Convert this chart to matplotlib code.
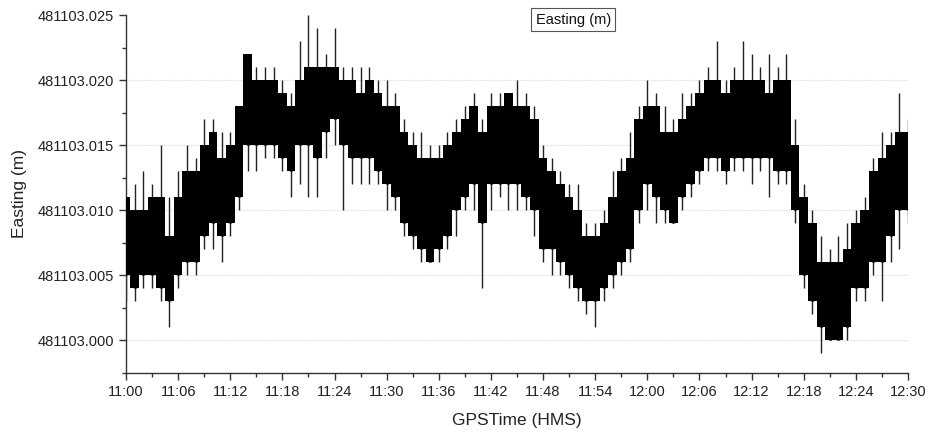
import numpy as np
import matplotlib
matplotlib.use("Agg")
import matplotlib.pyplot as plt
from matplotlib.ticker import MultipleLocator, FuncFormatter

plt.rcParams['font.family'] = ['Liberation Sans', 'DejaVu Sans']

# Easting readings, offsets in millimetres above the base value
EASTING_BASE = 481103.000
minutes = np.arange(0, 91)  # minutes after 11:00

core_low = [5, 4, 5, 5, 4, 3, 5, 6, 6, 8,
            9, 8, 9, 11, 15, 15, 15, 15, 14, 13,
            15, 15, 14, 16, 17, 15, 14, 14, 14, 13,
            12, 11, 9, 8, 7, 6, 7, 8, 10, 11,
            12, 9, 12, 12, 12, 12, 11, 10, 7, 7,
            6, 5, 4, 3, 3, 4, 5, 6, 7, 10,
            12, 11, 10, 9, 11, 12, 13, 14, 14, 13,
            14, 14, 14, 14, 14, 13, 13, 10, 5, 3,
            1, 0, 0, 1, 4, 4, 6, 6, 8, 10, 10]
core_high = [11, 10, 10, 11, 11, 8, 11, 13, 13, 15,
             16, 14, 15, 18, 22, 20, 20, 20, 19, 18,
             20, 21, 21, 21, 21, 20, 20, 19, 20, 19,
             18, 18, 16, 15, 14, 14, 14, 15, 16, 17,
             18, 16, 18, 18, 19, 18, 18, 17, 14, 13,
             12, 11, 10, 8, 8, 9, 11, 13, 14, 17,
             18, 18, 16, 16, 17, 18, 19, 20, 20, 19,
             20, 20, 20, 20, 19, 20, 20, 15, 11, 9,
             6, 6, 6, 7, 9, 10, 13, 14, 15, 16, 16]
peak_low = [3, 3, 4, 4, 3, 1, 4, 5, 5, 7,
            7, 6, 8, 10, 13, 13, 14, 14, 13, 11,
            12, 11, 11, 14, 15, 10, 12, 12, 12, 12,
            10, 10, 8, 7, 6, 6, 6, 7, 8, 10,
            10, 4, 10, 11, 10, 10, 10, 8, 6, 5,
            5, 4, 3, 2, 1, 3, 4, 5, 6, 9,
            10, 9, 9, 9, 10, 11, 12, 13, 13, 12,
            13, 13, 12, 13, 11, 12, 12, 9, 4, 2,
            -1, 0, 0, 0, 3, 3, 5, 3, 6, 7, 9]
peak_high = [11, 12, 13, 12, 15, 11, 13, 15, 14, 17,
             17, 16, 16, 18, 22, 21, 21, 21, 20, 19,
             23, 25, 24, 22, 24, 21, 21, 21, 21, 20,
             20, 19, 17, 16, 16, 15, 15, 16, 17, 18,
             19, 17, 19, 19, 19, 20, 19, 18, 15, 14,
             13, 12, 12, 9, 9, 10, 13, 14, 16, 18,
             20, 19, 18, 17, 19, 19, 20, 21, 23, 20,
             21, 23, 22, 21, 22, 21, 22, 17, 12, 10,
             8, 7, 8, 9, 10, 11, 14, 16, 16, 19, 17]

tick_labels = ['11:00', '11:06', '11:12', '11:18', '11:24', '11:30', '11:36',
               '11:42', '11:48', '11:54', '12:00', '12:06', '12:12', '12:18',
               '12:24', '12:30']


def to_m(mm):
    return EASTING_BASE + np.asarray(mm, dtype=float) / 1000.0


fig = plt.figure(figsize=(9.3, 4.34), dpi=100)
ax = fig.add_axes([0.1355, 0.1406, 0.8408, 0.8248])

# horizontal grid at the major ticks
for v in [0.000, 0.005, 0.010, 0.015, 0.020]:
    ax.axhline(EASTING_BASE + v, color='#dcdcdc', lw=0.8, ls=(0, (1, 1)), zorder=0)

# extreme readings within each minute
ax.vlines(minutes, to_m(peak_low), to_m(peak_high), color='#222222', lw=1.0, zorder=2)
# dense core band of the readings
ax.fill_between(minutes, to_m(core_low), to_m(core_high), step='mid',
                color='black', lw=0, zorder=3)
ax.vlines(minutes, to_m(core_low), to_m(core_high), color='black', lw=2.5, zorder=3)

ax.set_xlim(0, 90)
ax.set_ylim(481102.9975, 481103.025)
ax.set_xticks(np.arange(0, 91, 6))
ax.set_xticklabels(tick_labels)
ax.xaxis.set_minor_locator(MultipleLocator(3))
ax.yaxis.set_major_locator(MultipleLocator(0.005))
ax.yaxis.set_minor_locator(MultipleLocator(0.0025))
ax.yaxis.set_major_formatter(FuncFormatter(lambda v, p: f'{v:.3f}'))

for side in ['top', 'right']:
    ax.spines[side].set_visible(False)
for side in ['left', 'bottom']:
    ax.spines[side].set_color('#333333')
    ax.spines[side].set_linewidth(1.0)

ax.tick_params(axis='both', which='major', direction='out', length=5,
               width=1, color='#333333', labelsize=10.5, labelcolor='#222222')
ax.tick_params(axis='both', which='minor', direction='out', length=3,
               width=1, color='#333333')

ax.set_xlabel('GPSTime (HMS)', fontsize=12.5, color='#222222', labelpad=10)
ax.set_ylabel('Easting (m)', fontsize=12.5, color='#222222', labelpad=8)

ax.text(0.572, 0.987, 'Easting (m)', transform=ax.transAxes, ha='center', va='center',
        fontsize=10.5, color='#111111',
        bbox=dict(boxstyle='square,pad=0.3', facecolor='white', edgecolor='#555555', lw=0.8),
        zorder=5)

fig.savefig('out.png', dpi=100)
